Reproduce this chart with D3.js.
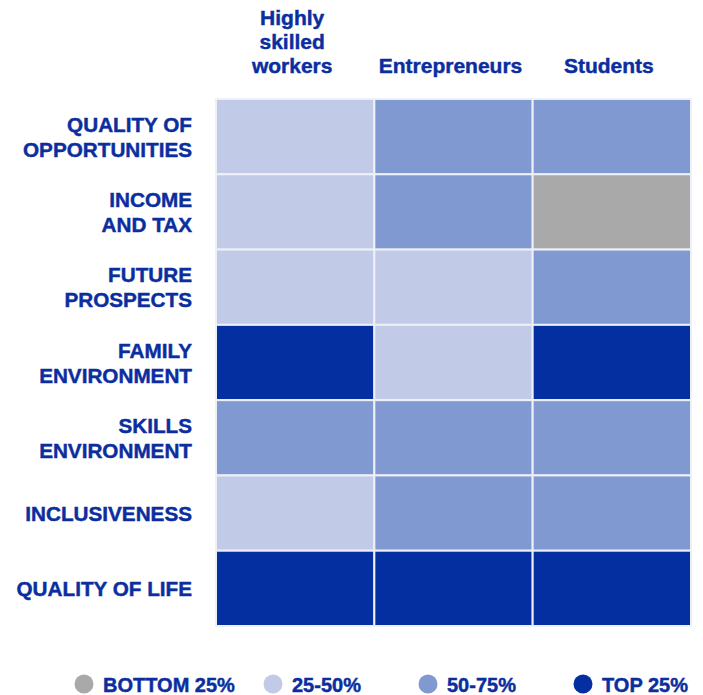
<!DOCTYPE html>
<html>
<head>
<meta charset="utf-8">
<script src="https://cdn.jsdelivr.net/npm/d3@7"></script>
<style>
  html, body { margin: 0; padding: 0; background: #ffffff; }
  svg { display: block; }
  text { font-family: "Liberation Sans", Arial, sans-serif; font-weight: bold; fill: #0b2e9f; stroke: #0b2e9f; stroke-width: 0.45px; }
</style>
</head>
<body>
<svg id="chart" width="703" height="695"></svg>
<script>
// ---- data ----
const groups = ["Highly skilled workers", "Entrepreneurs", "Students"];
const groupLines = [["Highly", "skilled", "workers"], ["Entrepreneurs"], ["Students"]];
const dimensions = ["QUALITY OF OPPORTUNITIES", "INCOME AND TAX", "FUTURE PROSPECTS",
  "FAMILY ENVIRONMENT", "SKILLS ENVIRONMENT", "INCLUSIVENESS", "QUALITY OF LIFE"];
const dimensionLines = [["QUALITY OF", "OPPORTUNITIES"], ["INCOME", "AND TAX"], ["FUTURE", "PROSPECTS"],
  ["FAMILY", "ENVIRONMENT"], ["SKILLS", "ENVIRONMENT"], ["INCLUSIVENESS"], ["QUALITY OF LIFE"]];
const classes = ["BOTTOM 25%", "25-50%", "50-75%", "TOP 25%"];
const classColors = ["#a9a9a9", "#c1cbe8", "#8199d1", "#032fa0"];
// quartile class per dimension, columns: Highly skilled workers, Entrepreneurs, Students
const highlySkilled = ["25-50%", "25-50%", "25-50%", "TOP 25%", "50-75%", "25-50%", "TOP 25%"];
const entrepreneurs = ["50-75%", "50-75%", "25-50%", "25-50%", "50-75%", "50-75%", "TOP 25%"];
const students      = ["50-75%", "BOTTOM 25%", "50-75%", "TOP 25%", "50-75%", "50-75%", "TOP 25%"];
const seriesValues = [highlySkilled, entrepreneurs, students];

const cells = [];
groups.forEach((g, gi) => dimensions.forEach((d, di) => cells.push({ group: g, dim: d, cls: seriesValues[gi][di] })));

// ---- layout ----
const svg = d3.select("#chart");
const x = d3.scaleBand().domain(groups).range([216, 691]).padding(0);
const y = d3.scaleBand().domain(dimensions).range([99, 626]).padding(0);
const color = d3.scaleOrdinal().domain(classes).range(classColors);

svg.append("g").selectAll("rect").data(cells).join("rect")
  .attr("x", d => x(d.group))
  .attr("y", d => y(d.dim))
  .attr("width", x.bandwidth())
  .attr("height", y.bandwidth())
  .attr("fill", d => color(d.cls))
  .attr("stroke", "#eef0f8")
  .attr("stroke-width", 2);

// column headers (bottom aligned)
const hdr = svg.append("g");
groups.forEach((g, gi) => {
  const lines = groupLines[gi];
  const cx = x(g) + x.bandwidth() / 2 - 3;
  const t = hdr.append("text").attr("text-anchor", "middle").attr("font-size", 21);
  lines.forEach((l, li) => {
    t.append("tspan").attr("x", cx).attr("y", 73 - (lines.length - 1 - li) * 24).text(l);
  });
});

// row labels
const rl = svg.append("g");
dimensions.forEach((d, di) => {
  const lines = dimensionLines[di];
  const cy = y(d) + y.bandwidth() / 2;
  const lh = 25;
  const t = rl.append("text").attr("text-anchor", "end").attr("font-size", 20.7);
  lines.forEach((l, li) => {
    const base = cy + 7.5 + (li - (lines.length - 1) / 2) * lh;
    t.append("tspan").attr("x", 192).attr("y", base).text(l);
  });
});

// legend
const legendX = d3.scaleOrdinal().domain(classes).range([84, 273, 428, 583]);
const lg = svg.append("g").selectAll("g").data(classes).join("g")
  .attr("transform", d => `translate(${legendX(d)},684)`);
lg.append("circle").attr("r", 9.5).attr("fill", d => color(d));
lg.append("text").attr("x", 19).attr("y", 7.5).attr("font-size", 20).text(d => d);
</script>
</body>
</html>
